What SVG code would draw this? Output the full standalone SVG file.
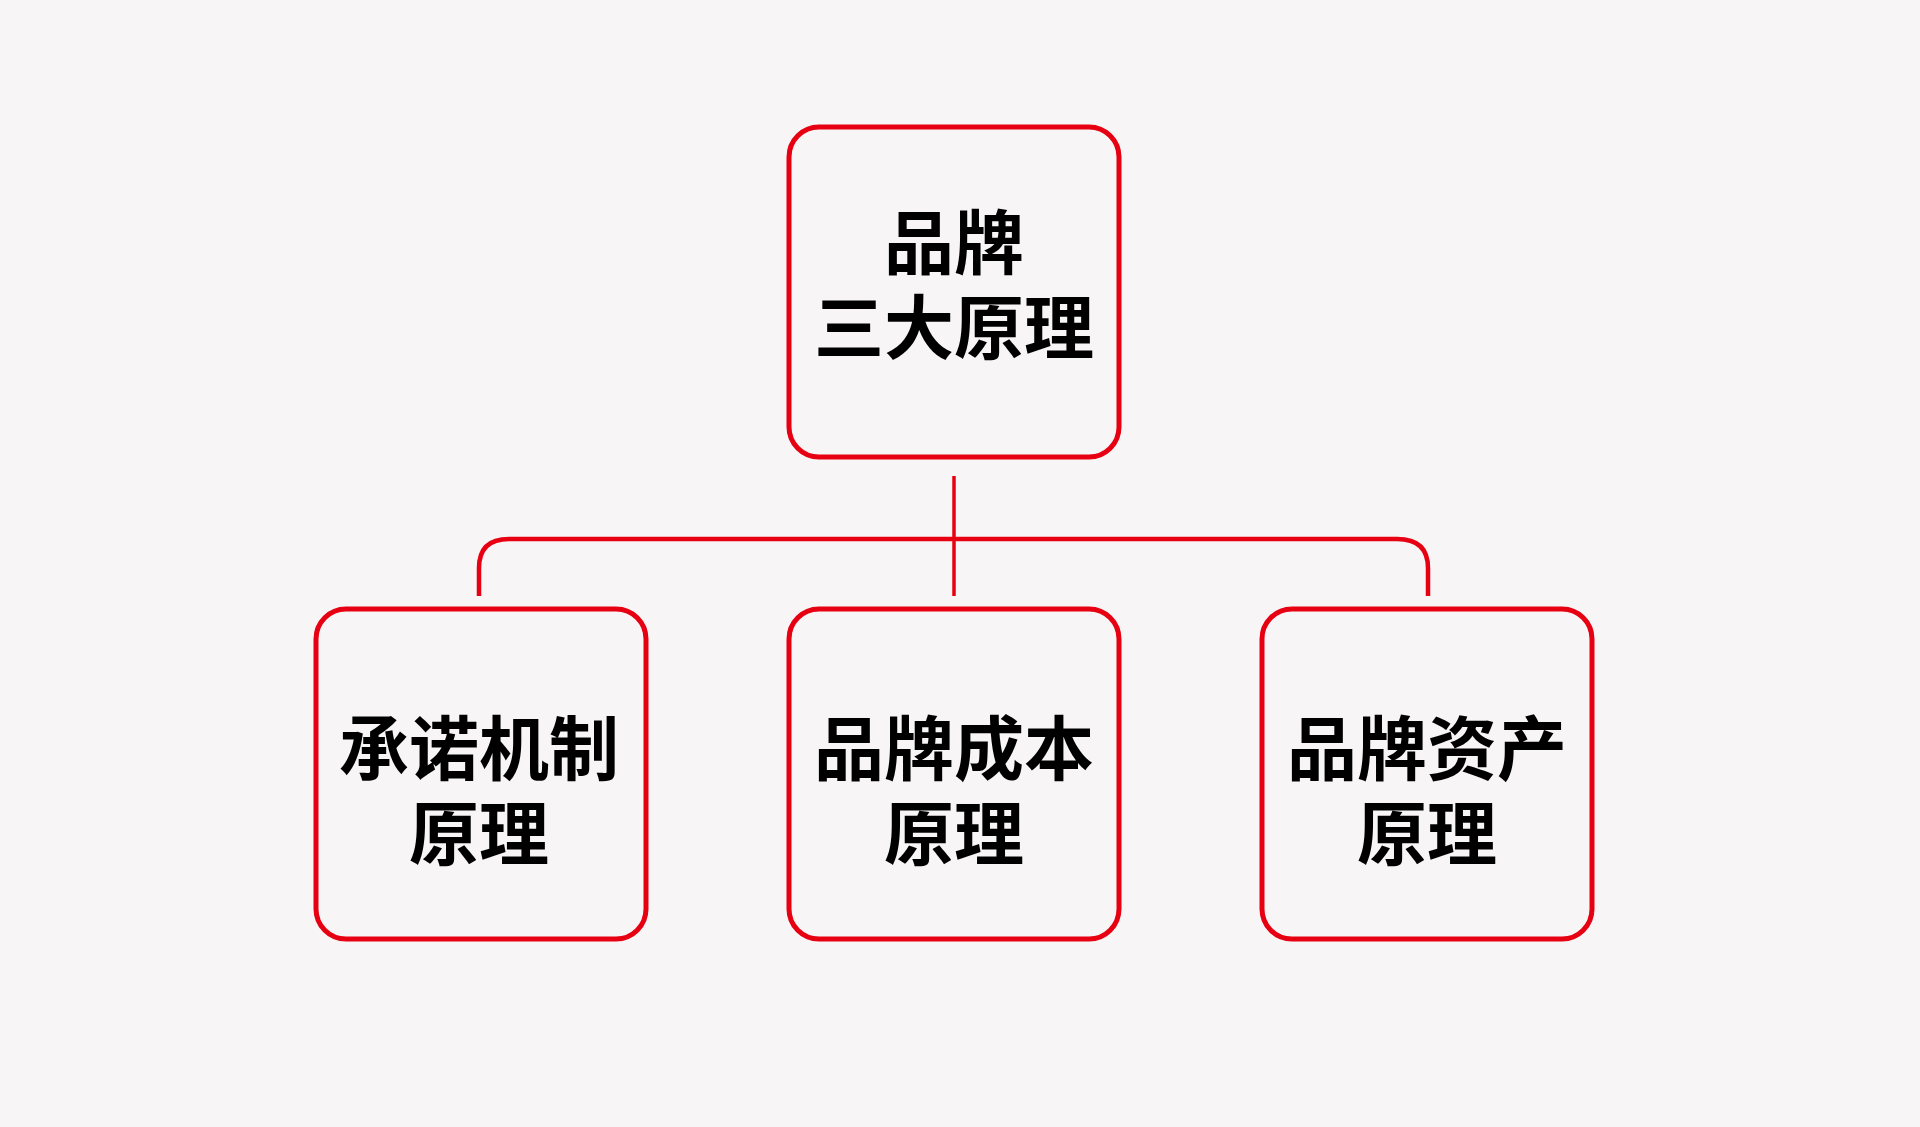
<svg xmlns="http://www.w3.org/2000/svg" width="1920" height="1127" viewBox="0 0 1920 1127">
<style>
.box{fill:none;stroke:#E60012;stroke-width:5}
.conn{fill:none;stroke:#E60012;stroke-width:4.5}
.v{fill:none;stroke:#E60012;stroke-width:3.5}
.t{font-family:"Noto Sans CJK SC","Noto Sans",sans-serif;font-weight:bold;font-size:70px;fill:#000;text-anchor:middle}
</style>
<rect width="1920" height="1127" fill="#F7F5F6"/>
<g id="connectors">
<path class="v" d="M954 476V596"/>
<path class="conn" d="M479 596V568Q479 539 509 539H1397Q1428 539 1428 568V596"/>
</g>
<g id="root">
<rect class="box" x="789" y="127" width="330" height="330" rx="30"/>
<text class="t" x="954" y="269">品牌<tspan x="954" dy="85">三大原理</tspan></text>
</g>
<g id="n1">
<rect class="box" x="316" y="609" width="330" height="330" rx="30"/>
<text class="t" x="479" y="775">承诺机制<tspan x="479" dy="85">原理</tspan></text>
</g>
<g id="n2">
<rect class="box" x="789" y="609" width="330" height="330" rx="30"/>
<text class="t" x="954" y="775">品牌成本<tspan x="954" dy="85">原理</tspan></text>
</g>
<g id="n3">
<rect class="box" x="1262" y="609" width="330" height="330" rx="30"/>
<text class="t" x="1427" y="775">品牌资产<tspan x="1427" dy="85">原理</tspan></text>
</g>
</svg>
